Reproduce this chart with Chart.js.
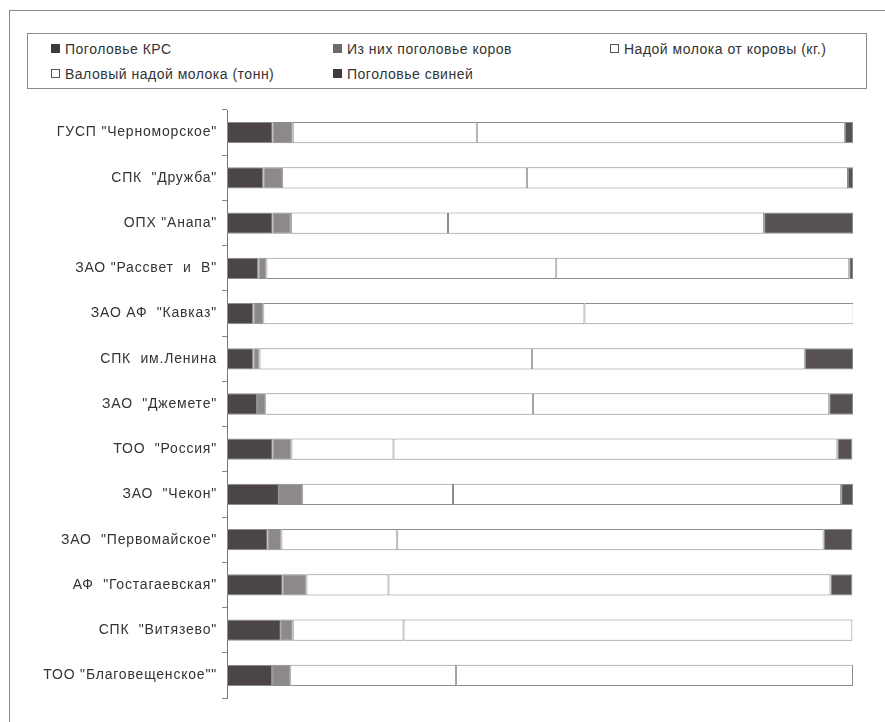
<!DOCTYPE html>
<html>
<head>
<meta charset="utf-8">
<script src="https://cdn.jsdelivr.net/npm/chart.js@4/dist/chart.umd.min.js"></script>
<style>
    body { margin: 0; background: #fff; font-family: "Liberation Sans", Arial, sans-serif; }
    #wrap { position: relative; width: 885px; height: 722px; }
    #frame { position: absolute; left: 9px; top: 10px; width: 900px; height: 730px; border-left: 1px solid #8a8a8a; border-top: 1px solid #8a8a8a; }
    #legend { position: absolute; left: 27px; top: 33px; width: 838px; height: 54px; border: 1px solid #8a8a8a; }
    .item { position: absolute; font-size: 14px; color: #333; letter-spacing: 0.5px; white-space: nowrap; }
    .box { display: inline-block; width: 7px; height: 7px; margin-right: 5px; vertical-align: 1px; }
    canvas { position: absolute; left: 0; top: 0; }
</style>
</head>
<body>
<div id="wrap">
    <div id="frame"></div>
    <div id="legend"></div>
    <canvas id="grafico" width="885" height="722"></canvas>
</div>
<script>
// хозяйства (сверху вниз)
const hozyaistva = [
    'ГУСП "Черноморское"',
    'СПК  "Дружба"',
    'ОПХ "Анапа"',
    'ЗАО "Рассвет  и  В"',
    'ЗАО АФ  "Кавказ"',
    'СПК  им.Ленина',
    'ЗАО  "Джемете"',
    'ТОО  "Россия"',
    'ЗАО  "Чекон"',
    'ЗАО  "Первомайское"',
    'АФ  "Гостагаевская"',
    'СПК  "Витязево"',
    'ТОО "Благовещенское""'
];

// доли, % (100% с накоплением)
const pogolovjeKRS    = [7.3, 5.8, 7.3, 5.0, 4.2, 4.2, 4.8, 7.3, 8.3, 6.5, 8.9, 8.6, 7.2];
const pogolovjeKorov  = [3.2, 3.0, 2.9, 1.3, 1.6, 1.0, 1.3, 3.0, 3.7, 2.2, 3.8, 1.9, 2.9];
const nadojNaKorovu   = [29.4, 39.1, 25.1, 46.3, 51.3, 43.5, 42.8, 16.3, 24.1, 18.5, 13.1, 17.7, 26.5];
const valovyiNadoj    = [58.8, 51.3, 50.5, 46.8, 43.0, 43.6, 47.3, 70.9, 62.0, 68.1, 70.6, 71.7, 63.4];
const pogolovjeSvinei = [1.3, 0.8, 14.2, 0.6, 0.0, 7.8, 3.8, 2.4, 1.9, 4.6, 3.5, 0.0, 0.0];

const serii = ['Поголовье КРС', 'Из них поголовье коров', 'Надой молока от коровы (кг.)', 'Валовый надой молока (тонн)', 'Поголовье свиней'];
const cveta = ['#4b4548', '#8d888a', '#ffffff', '#ffffff', '#575154'];
const legendaCveta = ['#3f3a3c', '#6e696b', '#ffffff', '#ffffff', '#3f3a3c'];
const dannye = [pogolovjeKRS, pogolovjeKorov, nadojNaKorovu, valovyiNadoj, pogolovjeSvinei];

// легенда в две строки, три колонки
const pozicii = [[23, 7], [305, 7], [582, 7], [23, 32], [305, 32]];
const legenda = document.getElementById("legend");
serii.forEach((nome, i) => {
    const div = document.createElement("div");
    div.className = "item";
    div.style.left = pozicii[i][0] + "px";
    div.style.top = pozicii[i][1] + "px";
    const borda = cveta[i] === '#ffffff' ? '1px solid #555' : '1px solid ' + legendaCveta[i];
    div.innerHTML = `<span class="box" style="background:${legendaCveta[i]};border:${borda}"></span>${nome}`;
    legenda.appendChild(div);
});

// разрядка текста подписей оси
const razryadka = {
    id: 'razryadka',
    beforeDraw(chart) { chart.ctx.letterSpacing = '0.8px'; },
    afterDraw(chart) { chart.ctx.letterSpacing = '0px'; }
};

const ctx = document.getElementById('grafico').getContext('2d');
new Chart(ctx, {
    type: 'bar',
    data: {
        labels: hozyaistva,
        datasets: dannye.map((d, i) => ({
            label: serii[i],
            data: d,
            backgroundColor: cveta[i],
            borderColor: '#8c8c8c',
            borderWidth: 1,
            borderSkipped: false,
            barPercentage: 0.47,
            categoryPercentage: 1.0
        }))
    },
    options: {
        indexAxis: 'y',
        responsive: false,
        animation: false,
        layout: { padding: { top: 110, bottom: 24, right: 32, left: 0 } },
        plugins: {
            legend: { display: false },
            tooltip: { enabled: false }
        },
        scales: {
            x: { stacked: true, min: 0, max: 100, display: false },
            y: {
                stacked: true,
                afterFit: (scale) => { scale.width = 227; },
                grid: { display: true, drawOnChartArea: false, drawTicks: true, tickLength: 5, offset: true, color: '#888' },
                border: { display: true, color: '#777', width: 1 },
                ticks: { color: '#333', padding: 5, font: { family: 'Liberation Sans', size: 14 } }
            }
        }
    },
    plugins: [razryadka]
});
</script>
</body>
</html>
